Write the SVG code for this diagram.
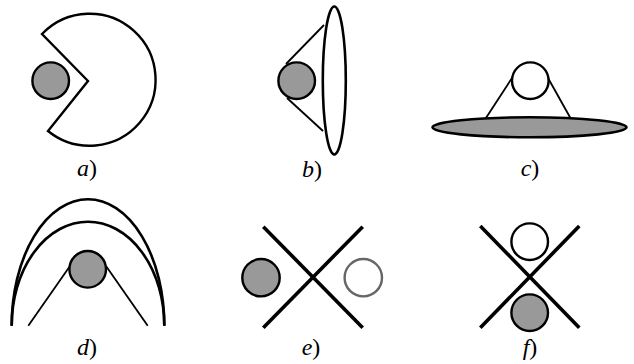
<svg xmlns="http://www.w3.org/2000/svg" width="634" height="364" viewBox="0 0 634 364">
<style>
.ball{fill:#999;stroke:#000;stroke-width:2.4}
.open{fill:#fff;stroke:#000;stroke-width:2.4}
.thin{fill:none;stroke:#000;stroke-width:1.8}
.cross{fill:none;stroke:#000;stroke-width:3.6}
.lbl{font-family:"Liberation Serif","DejaVu Serif",serif;font-size:24px;text-anchor:middle}
.it{font-style:italic}
</style>
<rect width="634" height="364" fill="#fff"/>
<g id="panel-a">
<path d="M88 81 L42 34 A66 66 0 1 1 48 131 Z" fill="#fff" stroke="#000" stroke-width="2.4" stroke-linejoin="miter"/>
<circle class="ball" cx="50.7" cy="80.7" r="18.3"/>
<text class="lbl" x="87" y="176"><tspan class="it">a</tspan>)</text>
</g>
<g id="panel-b">
<line class="thin" x1="286" y1="64" x2="324" y2="25"/>
<line class="thin" x1="287" y1="98" x2="323" y2="131"/>
<ellipse fill="none" stroke="#000" stroke-width="2.6" cx="334.3" cy="80.5" rx="11.5" ry="74"/>
<circle class="ball" cx="296.7" cy="80.7" r="18.3"/>
<text class="lbl" x="312" y="177"><tspan class="it">b</tspan>)</text>
</g>
<g id="panel-c">
<line class="thin" x1="512" y1="78" x2="485.3" y2="119"/>
<line class="thin" x1="548" y1="78" x2="571" y2="119"/>
<ellipse fill="#999" stroke="#000" stroke-width="2.6" cx="529.5" cy="127.3" rx="97" ry="10"/>
<circle class="open" cx="530.3" cy="80.7" r="18.3"/>
<text class="lbl" x="530" y="176"><tspan class="it">c</tspan>)</text>
</g>
<g id="panel-d">
<path d="M11.7 325.7 A76.3 126.4 0 0 1 164.3 325.7" fill="none" stroke="#000" stroke-width="2.6"/>
<path d="M11.7 325.7 A76.3 104 0 0 1 164.3 325.7" fill="none" stroke="#000" stroke-width="2.6"/>
<line class="thin" x1="28.3" y1="325.7" x2="70" y2="266"/>
<line class="thin" x1="106" y1="266" x2="147.7" y2="325.7"/>
<circle class="ball" cx="87.7" cy="269.3" r="18.3"/>
<text class="lbl" x="87" y="355"><tspan class="it">d</tspan>)</text>
</g>
<g id="panel-e">
<line class="cross" x1="263.3" y1="226.7" x2="362.7" y2="327.7"/>
<line class="cross" x1="362.7" y1="226.7" x2="263.3" y2="327.7"/>
<circle class="ball" cx="261" cy="277.7" r="18.7"/>
<circle fill="#fff" stroke="#666" stroke-width="2.4" cx="363.3" cy="277.7" r="18.7"/>
<text class="lbl" x="311" y="355"><tspan class="it">e</tspan>)</text>
</g>
<g id="panel-f">
<line class="cross" x1="480.3" y1="226" x2="579.3" y2="327.7"/>
<line class="cross" x1="579.3" y1="226" x2="480.3" y2="327.7"/>
<circle class="open" cx="529.7" cy="241.7" r="18.3"/>
<circle class="ball" cx="529.7" cy="312.7" r="18.3"/>
<text class="lbl" x="530" y="355"><tspan class="it">f</tspan>)</text>
</g>
<g id="connectors"/>
</svg>
